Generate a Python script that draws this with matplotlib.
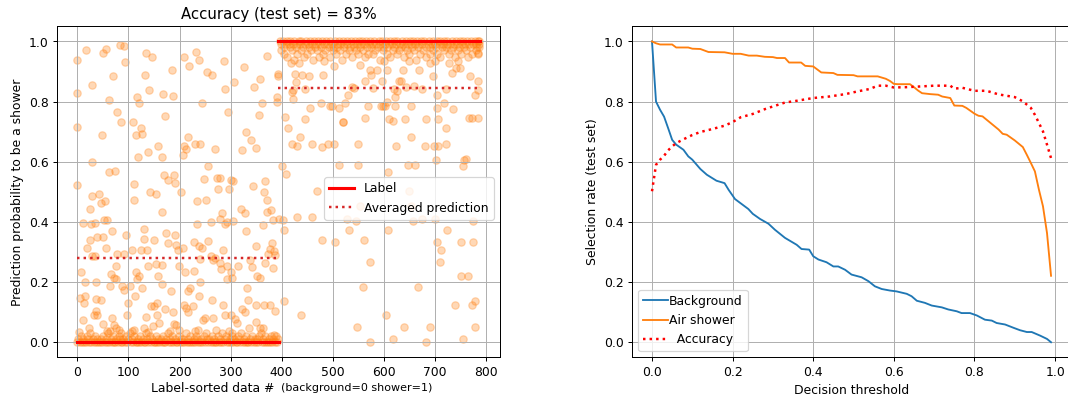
import matplotlib
matplotlib.use("Agg")
import matplotlib.pyplot as plt

# ---- left panel: predictions, sorted by label (0 = background, 1 = shower)
# background events, scattered part
bg_x = [0, 0, 17, 29, 50, 55, 62, 69, 83, 92,
        94, 117, 120, 133, 135, 146, 140, 168, 185, 187,
        208, 219, 232, 239, 245, 253, 264, 287, 290, 307,
        327, 345, 358, 361, 371, 391, 391,
        0, 29, 77, 86, 108, 115, 125, 126, 118, 48,
        138, 157, 165, 172, 207, 209, 212, 216, 230, 241,
        269, 294, 323, 330, 340, 350, 355,
        0, 61, 73, 29, 42, 46, 54, 24, 10, 27,
        34, 52, 57, 111, 111, 143, 153, 165, 170, 178,
        189, 192, 202, 235, 251, 248, 256, 275, 273, 280,
        296, 301, 305, 234, 261, 280, 283, 290, 293, 305,
        320, 328, 344, 365, 368, 371, 371, 364, 379, 384,
        7, 25, 38, 50, 56, 67, 19, 29, 34, 77,
        76, 92, 96, 106, 115, 121, 125, 130, 131, 137,
        149, 139, 153, 158, 165, 173, 178, 191, 193, 197,
        199, 206, 210, 229, 239, 245, 240, 228, 256, 261,
        265, 269, 285, 280, 282, 293, 300, 315, 303, 330,
        338, 342, 349, 352, 358, 367, 374, 377, 382, 385,
        387, 384,
        5, 12, 10, 3, 15, 22, 32, 36, 39, 37,
        47, 15, 37, 50, 57, 63, 63, 65, 67, 72,
        76, 81, 86, 72, 76, 88, 92, 98, 100, 102,
        106, 110, 112, 117, 126, 131, 135, 138, 145, 150,
        156, 160, 155, 148, 165, 172, 182, 184, 187, 189,
        193, 199, 209, 212, 216, 220, 217, 226, 230, 236,
        238, 241, 246, 250, 263, 266, 272, 285, 290, 293,
        296, 301, 308, 312, 303, 323, 328, 332, 335, 337,
        349, 350, 358, 364, 366, 377, 387, 386]
bg_y = [0.94, 0.83, 0.97, 0.856, 0.963, 0.975, 0.804, 0.884, 0.989, 0.986,
        0.931, 0.817, 0.795, 0.888, 0.961, 0.95, 0.84, 0.825, 0.906, 0.82,
        0.95, 0.917, 0.965, 0.939, 0.795, 0.897, 0.889, 0.934, 0.842, 0.864,
        0.914, 0.848, 0.876, 0.797, 0.952, 0.817, 0.798,
        0.715, 0.6, 0.767, 0.731, 0.731, 0.689, 0.712, 0.692, 0.616, 0.689,
        0.631, 0.654, 0.616, 0.751, 0.623, 0.653, 0.642, 0.682, 0.659, 0.659,
        0.642, 0.766, 0.64, 0.7, 0.673, 0.646, 0.757,
        0.524, 0.567, 0.568, 0.485, 0.493, 0.463, 0.468, 0.443, 0.396, 0.394,
        0.396, 0.405, 0.405, 0.526, 0.474, 0.498, 0.493, 0.432, 0.555, 0.54,
        0.555, 0.529, 0.498, 0.47, 0.472, 0.543, 0.587, 0.511, 0.546, 0.546,
        0.51, 0.54, 0.535, 0.394, 0.399, 0.41, 0.43, 0.394, 0.399, 0.402,
        0.443, 0.43, 0.52, 0.498, 0.535, 0.474, 0.432, 0.39, 0.441, 0.405,
        0.233, 0.339, 0.349, 0.349, 0.313, 0.369, 0.313, 0.288, 0.288, 0.295,
        0.255, 0.295, 0.358, 0.308, 0.233, 0.219, 0.308, 0.377, 0.343, 0.306,
        0.339, 0.252, 0.261, 0.221, 0.258, 0.363, 0.33, 0.355, 0.324, 0.308,
        0.255, 0.313, 0.233, 0.332, 0.319, 0.313, 0.277, 0.236, 0.336, 0.286,
        0.275, 0.28, 0.306, 0.264, 0.244, 0.252, 0.233, 0.252, 0.214, 0.369,
        0.275, 0.25, 0.319, 0.221, 0.214, 0.264, 0.295, 0.31, 0.33, 0.302,
        0.291, 0.247,
        0.147, 0.129, 0.075, 0.033, 0.155, 0.048, 0.089, 0.103, 0.092, 0.144,
        0.142, 0.2, 0.2, 0.062, 0.037, 0.039, 0.186, 0.228, 0.081, 0.059,
        0.048, 0.04, 0.031, 0.214, 0.21, 0.186, 0.175, 0.092, 0.131, 0.186,
        0.037, 0.042, 0.155, 0.21, 0.179, 0.048, 0.084, 0.033, 0.122, 0.12,
        0.131, 0.064, 0.092, 0.053, 0.192, 0.109, 0.037, 0.169, 0.1, 0.062,
        0.059, 0.042, 0.125, 0.114, 0.1, 0.179, 0.169, 0.122, 0.037, 0.042,
        0.155, 0.2, 0.075, 0.081, 0.139, 0.081, 0.042, 0.125, 0.089, 0.21,
        0.037, 0.092, 0.078, 0.064, 0.031, 0.109, 0.1, 0.179, 0.139, 0.048,
        0.066, 0.125, 0.048, 0.048, 0.125, 0.125, 0.103, 0.025]

# background events sitting right at 0
bg_low_x = [0, 2, 4, 7, 9, 11, 13, 16, 18, 20,
            23, 25, 27, 30, 32, 34, 37, 39, 41, 44,
            46, 48, 51, 53, 55, 58, 60, 62, 65, 67,
            69, 72, 74, 76, 79, 81, 83, 86, 88, 90,
            93, 95, 97, 100, 102, 104, 107, 109, 111, 114,
            116, 118, 121, 123, 125, 128, 130, 132, 135, 137,
            139, 142, 144, 146, 149, 151, 153, 156, 158, 160,
            163, 165, 167, 170, 172, 174, 177, 179, 181, 184,
            186, 188, 191, 193, 195, 198, 200, 202, 205, 207,
            209, 212, 214, 216, 219, 221, 223, 226, 228, 230,
            233, 235, 237, 240, 242, 244, 247, 249, 251, 254,
            256, 258, 261, 263, 265, 268, 270, 272, 275, 277,
            279, 282, 284, 286, 289, 291, 293, 296, 298, 300,
            303, 305, 307, 310, 312, 314, 317, 319, 321, 324,
            326, 328, 331, 333, 335, 338, 340, 342, 345, 347,
            349, 352, 354, 356, 359, 361, 363, 366, 368, 370,
            373, 375, 377, 380, 382, 384, 387, 389, 391, 393]
bg_low_y = [0.00, 0.01, 0.00, 0.02, 0.00, 0.01, 0.00, 0.00, 0.02, 0.01,
            0.00, 0.03, 0.00, 0.01, 0.00, 0.02, 0.00, 0.01, 0.00, 0.00,
            0.01, 0.00, 0.02, 0.00, 0.01, 0.00, 0.03, 0.00, 0.01, 0.00,
            0.02, 0.00, 0.00, 0.01, 0.00, 0.02, 0.01, 0.00, 0.00, 0.01,
            0.00, 0.02, 0.00, 0.01, 0.03, 0.00, 0.01, 0.00, 0.02, 0.00,
            0.00, 0.01, 0.00, 0.02, 0.00, 0.01, 0.00, 0.00, 0.03, 0.01,
            0.00, 0.02, 0.00, 0.01, 0.00, 0.00, 0.02, 0.00, 0.01, 0.00,
            0.01, 0.00, 0.02, 0.00, 0.00, 0.01, 0.03, 0.00, 0.01, 0.00,
            0.02, 0.00, 0.01, 0.00, 0.00, 0.02, 0.00, 0.01, 0.00, 0.01,
            0.00, 0.03, 0.00, 0.01, 0.00, 0.02, 0.00, 0.00, 0.01, 0.00,
            0.02, 0.01, 0.00, 0.00, 0.01, 0.00, 0.02, 0.00, 0.03, 0.01,
            0.00, 0.01, 0.00, 0.02, 0.00, 0.01, 0.00, 0.00, 0.02, 0.00,
            0.01, 0.00, 0.03, 0.00, 0.01, 0.02, 0.00, 0.00, 0.01, 0.00,
            0.02, 0.00, 0.01, 0.00, 0.00, 0.02, 0.01, 0.00, 0.03, 0.00,
            0.01, 0.00, 0.02, 0.00, 0.00, 0.01, 0.00, 0.02, 0.00, 0.01,
            0.00, 0.01, 0.00, 0.02, 0.03, 0.00, 0.01, 0.00, 0.02, 0.00,
            0.00, 0.01, 0.00, 0.02, 0.00, 0.01, 0.00, 0.02, 0.00, 0.01]

# shower events, scattered part
sh_x = [393, 393, 418, 426, 435, 428, 422, 420, 422, 440,
        446, 453, 456, 482, 478, 483, 502, 499, 512, 520,
        524, 531, 537, 542, 553, 563, 569, 573, 576, 586,
        580, 596, 598, 603, 606, 606, 600, 620, 623, 623,
        630, 633, 627, 637, 643, 650, 654, 660, 670, 676,
        691, 696, 701, 704, 719, 723, 728, 734, 741, 746,
        750, 770, 778, 785, 785, 785,
        406, 413, 420, 430, 437, 445, 460, 480, 490, 502,
        494, 520, 550, 564, 595, 611, 618, 624, 642, 654,
        683, 681, 699, 707, 704, 703, 707, 722, 723, 736,
        758, 762, 755, 768, 773, 785, 662, 647, 401, 408,
        512, 550, 608,
        395, 402, 430, 460, 470, 529, 546, 553, 657, 650,
        675, 701, 775, 654,
        404, 480, 505, 532, 562, 573, 608, 704, 712, 711,
        725, 751, 775, 751, 765,
        404, 438, 559, 547, 573, 605, 619, 640, 667, 683,
        691, 740, 755, 773, 778, 778]
sh_y = [0.893, 0.886, 0.928, 0.893, 0.928, 0.864, 0.84, 0.831, 0.808, 0.889,
        0.842, 0.886, 0.779, 0.889, 0.795, 0.934, 0.917, 0.786, 0.779, 0.731,
        0.795, 0.823, 0.848, 0.845, 0.922, 0.867, 0.786, 0.906, 0.889, 0.906,
        0.845, 0.867, 0.786, 0.786, 0.8, 0.906, 0.934, 0.842, 0.817, 0.786,
        0.867, 0.867, 0.834, 0.906, 0.848, 0.934, 0.784, 0.853, 0.906, 0.842,
        0.928, 0.886, 0.934, 0.823, 0.795, 0.842, 0.928, 0.895, 0.911, 0.934,
        0.911, 0.886, 0.823, 0.867, 0.84, 0.961,
        0.748, 0.712, 0.66, 0.653, 0.682, 0.742, 0.66, 0.648, 0.66, 0.66,
        0.786, 0.731, 0.66, 0.744, 0.786, 0.743, 0.734, 0.651, 0.742, 0.684,
        0.742, 0.651, 0.651, 0.651, 0.779, 0.607, 0.743, 0.712, 0.659, 0.775,
        0.605, 0.609, 0.587, 0.745, 0.745, 0.745, 0.588, 0.588, 0.587, 0.56,
        0.588, 0.588, 0.565,
        0.41, 0.405, 0.416, 0.416, 0.502, 0.41, 0.402, 0.454, 0.402, 0.502,
        0.41, 0.41, 0.402, 0.452,
        0.372, 0.339, 0.333, 0.372, 0.339, 0.266, 0.372, 0.332, 0.306, 0.266,
        0.372, 0.332, 0.332, 0.221, 0.221,
        0.136, 0.092, 0.184, 0.051, 0.0, 0.092, 0.011, 0.051, 0.184, 0.0,
        0.051, 0.125, 0.011, 0.125, 0.136, 0.051]

# shower events sitting near 1
sh_high_x = [396, 398, 399, 402, 404, 405, 408, 410, 411, 414,
             416, 417, 420, 422, 424, 425, 428, 430, 431, 434,
             436, 438, 439, 442, 444, 445, 448, 450, 452, 453,
             456, 458, 459, 462, 464, 466, 467, 470, 472, 473,
             476, 478, 480, 481, 484, 486, 487, 490, 492, 494,
             495, 498, 500, 501, 504, 506, 508, 509, 512, 514,
             515, 518, 520, 522, 523, 526, 528, 529, 532, 534,
             536, 537, 540, 542, 543, 546, 548, 550, 551, 554,
             556, 557, 560, 562, 564, 565, 568, 570, 571, 574,
             576, 578, 579, 582, 584, 585, 588, 590, 592, 593,
             596, 598, 599, 602, 604, 606, 607, 610, 612, 613,
             616, 618, 620, 621, 624, 626, 627, 630, 632, 634,
             635, 638, 640, 641, 644, 646, 648, 649, 652, 654,
             655, 658, 660, 662, 663, 666, 668, 669, 672, 674,
             676, 677, 680, 682, 683, 686, 688, 690, 691, 694,
             696, 697, 700, 702, 704, 705, 708, 710, 711, 714,
             716, 718, 719, 722, 724, 725, 728, 730, 732, 733,
             736, 738, 739, 742, 744, 746, 747, 750, 752, 753,
             756, 758, 760, 761, 764, 766, 767, 770, 772, 774,
             775, 778, 780, 781, 783, 784, 785, 786, 787, 787]
sh_high_y = [1.00, 0.99, 0.97, 1.00, 0.98, 0.96, 0.99, 1.00, 0.95, 0.99,
             0.98, 1.00, 0.97, 0.99, 0.94, 1.00, 0.98, 0.99, 0.96, 1.00,
             0.99, 0.97, 1.00, 0.98, 0.95, 0.99, 1.00, 0.96, 0.99, 0.98,
             1.00, 0.97, 0.99, 0.94, 1.00, 0.98, 0.99, 0.97, 1.00, 0.95,
             0.99, 0.98, 1.00, 0.96, 0.99, 0.97, 1.00, 0.99, 0.98, 0.95,
             1.00, 0.99, 0.97, 0.98, 1.00, 0.96, 0.99, 0.98, 1.00, 0.97,
             0.99, 0.94, 1.00, 0.98, 0.99, 0.96, 1.00, 0.99, 0.97, 0.98,
             1.00, 0.95, 0.99, 0.98, 1.00, 0.97, 0.99, 0.96, 1.00, 0.98,
             0.99, 1.00, 0.97, 0.99, 0.95, 1.00, 0.98, 0.96, 0.99, 1.00,
             0.98, 0.99, 0.96, 1.00, 0.97, 0.99, 0.98, 1.00, 0.94, 0.99,
             1.00, 0.98, 0.97, 0.99, 1.00, 0.96, 0.98, 0.99, 1.00, 0.95,
             0.99, 0.97, 1.00, 0.98, 0.99, 0.96, 1.00, 0.97, 0.99, 0.98,
             1.00, 0.99, 0.95, 0.98, 1.00, 0.97, 0.99, 0.96, 1.00, 0.99,
             0.98, 1.00, 0.97, 0.99, 0.94, 1.00, 0.98, 0.99, 0.96, 1.00,
             0.99, 0.97, 1.00, 0.98, 0.95, 0.99, 1.00, 0.96, 0.98, 0.99,
             1.00, 0.97, 0.99, 0.98, 1.00, 0.96, 0.99, 0.95, 1.00, 0.98,
             0.99, 1.00, 0.97, 0.98, 0.99, 1.00, 0.96, 0.99, 0.97, 1.00,
             0.98, 0.99, 0.95, 1.00, 0.99, 0.97, 0.98, 1.00, 0.96, 0.99,
             1.00, 0.98, 0.99, 0.97, 1.00, 0.95, 0.99, 0.98, 1.00, 0.96,
             0.99, 1.00, 0.97, 0.99, 0.98, 1.00, 0.96, 0.99, 1.00, 0.98]

# label and averaged prediction per class (start/end index, value)
bg_range = [0, 394]
sh_range = [393, 788]
bg_label = 0.0
sh_label = 1.0
bg_mean = 0.28
sh_mean = 0.845
accuracy_pct = 83

# ---- right panel: selection rates vs decision threshold
bg_thr = [0.0, 0.01, 0.02, 0.03, 0.04, 0.05, 0.06, 0.078, 0.09, 0.10,
          0.12, 0.136, 0.16, 0.18, 0.19, 0.206, 0.222, 0.239, 0.25, 0.268,
          0.289, 0.305, 0.33, 0.359, 0.371, 0.39, 0.40, 0.413, 0.433, 0.45,
          0.462, 0.479, 0.495, 0.52, 0.537, 0.553, 0.57, 0.59, 0.607, 0.632,
          0.644, 0.657, 0.677, 0.694, 0.719, 0.735, 0.756, 0.768, 0.789, 0.806,
          0.826, 0.843, 0.855, 0.876, 0.897, 0.913, 0.93, 0.942, 0.963, 0.98,
          0.99]
bg_sel = [1.0, 0.80, 0.773, 0.75, 0.712, 0.673, 0.657, 0.64, 0.618, 0.607,
          0.576, 0.557, 0.537, 0.529, 0.507, 0.476, 0.46, 0.443, 0.427, 0.41,
          0.394, 0.374, 0.347, 0.324, 0.31, 0.308, 0.286, 0.275, 0.266, 0.252,
          0.252, 0.241, 0.225, 0.216, 0.203, 0.186, 0.177, 0.172, 0.169, 0.161,
          0.153, 0.138, 0.131, 0.122, 0.116, 0.109, 0.103, 0.097, 0.097, 0.089,
          0.075, 0.072, 0.064, 0.059, 0.048, 0.04, 0.034, 0.034, 0.022, 0.011,
          0.0]

sh_thr = [0.0, 0.01, 0.02, 0.05, 0.06, 0.09, 0.10, 0.12, 0.14, 0.18,
          0.20, 0.22, 0.24, 0.26, 0.28, 0.30, 0.31, 0.33, 0.34, 0.37,
          0.38, 0.40, 0.42, 0.45, 0.46, 0.50, 0.51, 0.56, 0.58, 0.59,
          0.60, 0.61, 0.64, 0.65, 0.66, 0.67, 0.69, 0.71, 0.72, 0.74,
          0.75, 0.77, 0.78, 0.80, 0.81, 0.82, 0.83, 0.85, 0.86, 0.87,
          0.88, 0.90, 0.92, 0.93, 0.94, 0.95, 0.96, 0.97, 0.98, 0.99]
sh_sel = [1.0, 0.994, 0.99, 0.99, 0.98, 0.98, 0.976, 0.975, 0.965, 0.964,
          0.959, 0.959, 0.953, 0.953, 0.949, 0.948, 0.945, 0.945, 0.93, 0.93,
          0.919, 0.917, 0.897, 0.895, 0.889, 0.888, 0.884, 0.884, 0.876, 0.869,
          0.859, 0.858, 0.858, 0.848, 0.837, 0.828, 0.825, 0.823, 0.817, 0.812,
          0.787, 0.786, 0.779, 0.76, 0.753, 0.751, 0.74, 0.718, 0.707, 0.693,
          0.69, 0.671, 0.649, 0.623, 0.596, 0.568, 0.507, 0.452, 0.363, 0.221]

acc_thr = [0.0, 0.01, 0.02, 0.03, 0.04, 0.05, 0.06, 0.08, 0.10, 0.12,
           0.15, 0.18, 0.20, 0.22, 0.25, 0.28, 0.30, 0.33, 0.36, 0.40,
           0.44, 0.48, 0.51, 0.54, 0.56, 0.58, 0.60, 0.63, 0.66, 0.70,
           0.74, 0.75, 0.77, 0.80, 0.83, 0.86, 0.90, 0.92, 0.94, 0.95,
           0.96, 0.97, 0.98, 0.99]
acc = [0.502, 0.59, 0.607, 0.62, 0.638, 0.651, 0.662, 0.676, 0.689, 0.699,
       0.709, 0.72, 0.732, 0.748, 0.759, 0.775, 0.784, 0.797, 0.803, 0.812,
       0.817, 0.825, 0.834, 0.842, 0.853, 0.853, 0.847, 0.848, 0.85, 0.853,
       0.853, 0.843, 0.846, 0.836, 0.836, 0.824, 0.815, 0.801, 0.779, 0.756,
       0.729, 0.701, 0.657, 0.612]

# 12 x 4.5 in at 89 dpi -> 1068 x 401 px
fig = plt.figure(figsize=(12.0, 4.506), dpi=89)
ax1 = fig.add_axes([0.0537, 0.109, 0.4142, 0.825])
# right panel runs slightly past the figure edge, like the cropped original
ax2 = fig.add_axes([0.5918, 0.109, 0.4110, 0.825])

# Left plot
ax1.scatter(bg_low_x + bg_x + sh_x + sh_high_x,
            bg_low_y + bg_y + sh_y + sh_high_y,
            color='C1', alpha=0.3)
ax1.plot(bg_range, [bg_label, bg_label], color='red', lw=2.5, label='Label')
ax1.plot(sh_range, [sh_label, sh_label], color='red', lw=2.5)
ax1.plot(bg_range, [bg_mean, bg_mean], ':', color='tab:red', lw=2,
         label='Averaged prediction')
ax1.plot(sh_range, [sh_mean, sh_mean], ':', color='tab:red', lw=2)
ax1.grid(True)
ax1.set_title("Accuracy (test set) = %d%%" % accuracy_pct)
ax1.set_ylabel("Prediction probability to be a shower")
ax1.legend(loc='center right', bbox_to_anchor=(1.0, 0.48))
fig.text(0.1414, 0.032, "Label-sorted data #", fontsize=10, va='center')
fig.text(0.263, 0.032, "(background=0 shower=1)", fontsize=9, va='center')

# Right plot
ax2.plot(bg_thr, bg_sel, color='C0', label='Background')
ax2.plot(sh_thr, sh_sel, color='C1', label='Air shower')
ax2.plot(acc_thr, acc, ':', color='red', lw=2, label='  Accuracy')
ax2.grid(True)
ax2.set_xlabel("Decision threshold")
ax2.set_ylabel("Selection rate (test set)")
ax2.legend(loc='lower left', handletextpad=0.1)

plt.savefig("out.png", dpi=89)
